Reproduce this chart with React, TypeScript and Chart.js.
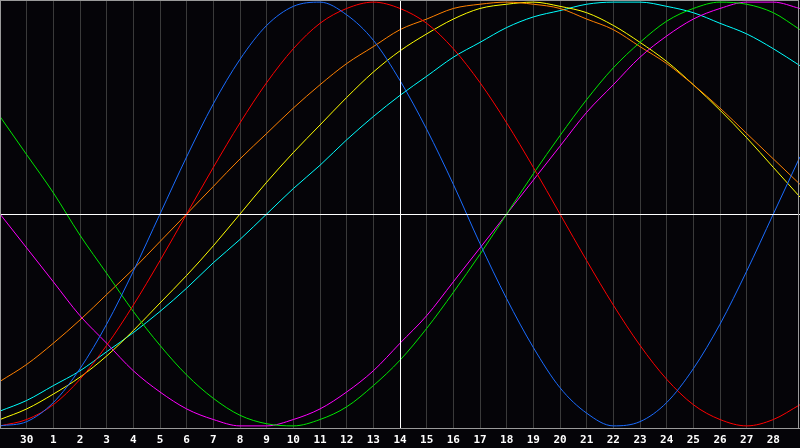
import { useEffect, useRef } from 'react';
import { Chart, registerables } from 'chart.js';

Chart.register(...registerables);

const dayLabels = ['29', '30', '1', '2', '3', '4', '5', '6', '7', '8', '9', '10', '11', '12', '13', '14', '15', '16', '17', '18', '19', '20', '21', '22', '23', '24', '25', '26', '27', '28', '29'];
const todayIndex = 15;

const physical = [-100, -98, -89, -73, -52, -27, 0, 27, 52, 73, 89, 98, 100, 94, 82, 63, 40, 14, -14, -40, -63, -82, -94, -100, -98, -89, -73, -52, -27, 0, 27];
const emotional = [-100, -97, -90, -78, -62, -43, -22, 0, 22, 43, 62, 78, 90, 97, 100, 97, 90, 78, 62, 43, 22, 0, -22, -43, -62, -78, -90, -97, -100, -97, -90];
const intellectual = [46, 28, 10, -10, -28, -46, -62, -76, -87, -95, -99, -100, -97, -91, -81, -69, -54, -37, -19, 0, 19, 37, 54, 69, 81, 91, 97, 100, 99, 95, 87];
const intuitive = [0, -16, -32, -48, -61, -74, -84, -92, -97, -100, -100, -97, -92, -84, -74, -61, -48, -32, -16, 0, 16, 32, 48, 61, 74, 84, 92, 97, 100, 100, 97];
const awareness = [-79, -71, -61, -50, -38, -26, -13, 0, 13, 26, 38, 50, 61, 71, 79, 87, 92, 97, 99, 100, 99, 97, 92, 87, 79, 71, 61, 50, 38, 26, 14];
const aesthetic = [-97, -92, -85, -77, -67, -55, -42, -29, -15, 0, 15, 29, 42, 55, 67, 77, 85, 92, 97, 99, 100, 98, 95, 89, 81, 72, 61, 49, 36, 22, 8];
const spiritual = [-93, -88, -81, -74, -65, -56, -46, -35, -23, -12, 0, 12, 23, 35, 46, 56, 65, 74, 81, 88, 93, 96, 99, 100, 100, 98, 95, 90, 85, 78, 70];

const seriesNames = ['Physical', 'Emotional', 'Intellectual', 'Intuitive', 'Awareness', 'Aesthetic', 'Spiritual'];
const seriesValues = [physical, emotional, intellectual, intuitive, awareness, aesthetic, spiritual];
const seriesColors = ['#1a6cff', '#ff0000', '#00e600', '#ff00ff', '#ff8000', '#ffff00', '#00ffff'];

const framePlugin = {
  id: 'frame',
  beforeDraw(chart: any) {
    const { ctx, width, height } = chart;
    ctx.save();
    ctx.fillStyle = '#050408';
    ctx.fillRect(0, 0, width, height);
    ctx.restore();
  },
  afterDatasetsDraw(chart: any) {
    const { ctx, chartArea, scales } = chart;
    ctx.save();
    ctx.lineWidth = 1;
    ctx.strokeStyle = '#ffffff';
    const x = Math.round(scales.x.getPixelForValue(todayIndex)) + 0.5;
    const y = Math.round(scales.y.getPixelForValue(0)) + 0.5;
    ctx.beginPath();
    ctx.moveTo(x, chartArea.top);
    ctx.lineTo(x, chartArea.bottom);
    ctx.moveTo(chartArea.left, y);
    ctx.lineTo(chartArea.right, y);
    ctx.stroke();
    ctx.strokeStyle = '#9a9a9a';
    ctx.strokeRect(chartArea.left + 0.5, chartArea.top + 0.5, chartArea.right - chartArea.left - 2, chartArea.bottom - chartArea.top);
    ctx.restore();
  },
};

export default function App() {
  const ref = useRef<HTMLCanvasElement>(null);
  useEffect(() => {
    document.body.style.margin = '0';
    const chart = new Chart(ref.current!, {
      type: 'line',
      data: {
        labels: dayLabels,
        datasets: seriesNames.map((name, i) => ({
          label: name,
          data: seriesValues[i],
          borderColor: seriesColors[i],
          borderWidth: 1,
          pointRadius: 0,
          pointHoverRadius: 0,
          fill: false,
          cubicInterpolationMode: 'monotone' as const,
        })),
      },
      options: {
        responsive: false,
        animation: false,
        devicePixelRatio: 1,
        layout: { padding: 0, autoPadding: false },
        plugins: { legend: { display: false }, tooltip: { enabled: false } },
        scales: {
          x: {
            type: 'category',
            offset: false,
            grid: { color: '#3a3a3a', drawTicks: true, tickLength: 6, tickColor: 'rgba(0,0,0,0)', lineWidth: 1 },
            border: { display: true, color: '#9a9a9a' },
            ticks: {
              autoSkip: false,
              maxRotation: 0,
              padding: 0,
              color: '#ffffff',
              font: { family: '"DejaVu Sans Mono", monospace', size: 11, weight: 'bold' },
              callback: (_v: any, idx: number) => (idx === 0 || idx === dayLabels.length - 1 ? '' : dayLabels[idx]),
            },
            afterFit: (scale: any) => {
              scale.height = 20;
            },
          },
          y: {
            display: false,
            min: -101,
            max: 101,
          },
        },
      },
      plugins: [framePlugin],
    });
    return () => chart.destroy();
  }, []);
  return (
    <div style={{ width: 800, height: 448 }}>
      <canvas ref={ref} width={800} height={448} style={{ display: 'block' }} />
    </div>
  );
}
